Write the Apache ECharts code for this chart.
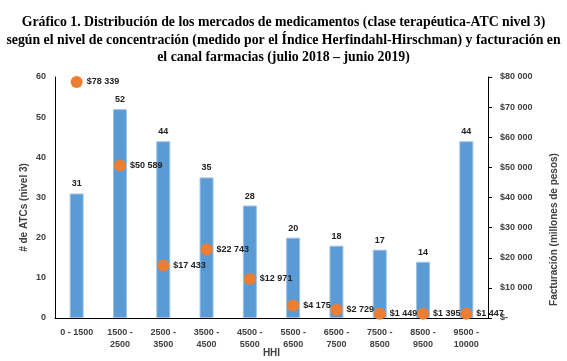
<!DOCTYPE html>
<html><head><meta charset="utf-8">
<script src="https://cdn.jsdelivr.net/npm/echarts@6/dist/echarts.min.js"></script>
<style>html,body{margin:0;padding:0;background:#fff}#c{width:567px;height:361px}</style>
</head><body><div id="c"></div>
<script>
var categories = ['0 - 1500','1500 -\n2500','2500 -\n3500','3500 -\n4500','4500 -\n5500','5500 -\n6500','6500 -\n7500','7500 -\n8500','8500 -\n9500','9500 -\n10000'];
var atcCounts = [31, 52, 44, 35, 28, 20, 18, 17, 14, 44];
var facturacion = [78339, 50589, 17433, 22743, 12971, 4175, 2729, 1449, 1395, 1447];
var titleText = 'Gráfico 1. Distribución de los mercados de medicamentos (clase terapéutica-ATC nivel 3)\nsegún el nivel de concentración (medido por el Índice Herfindahl-Hirschman) y facturación en\nel canal farmacias (julio 2018 – junio 2019)';

function fmtMoney(v){
  if (v === 0) return '$-';
  var s = String(Math.round(v));
  return '$' + s.replace(/\B(?=(\d{3})+(?!\d))/g, ' ');
}
var font = 'Liberation Sans';
var chart = echarts.init(document.getElementById('c'), null, {renderer:'canvas'});
chart.setOption({
  animation:false,
  backgroundColor:'#fff',
  title:{text:titleText, left:'center', top:9, textStyle:{fontFamily:'Liberation Serif', fontWeight:'bold', fontSize:13.8, lineHeight:17.5, color:'#000'}},
  grid:{left:55, right:79, top:77, bottom:43, outerBoundsMode:'none', containLabel:false},
  xAxis:{type:'category', data:categories, name:'HHI', nameLocation:'middle', nameGap:30, nameMoveOverlap:false,
    nameTextStyle:{fontFamily:font, fontWeight:'bold', fontSize:10, color:'#404040'},
    axisLine:{lineStyle:{color:'#000', width:1}}, axisTick:{show:false},
    axisLabel:{fontFamily:font, fontWeight:'bold', fontSize:9, color:'#404040', lineHeight:12, margin:9, interval:0}},
  yAxis:[
    {type:'value', min:0, max:60, interval:10, name:'# de ATCs (nivel 3)', nameLocation:'middle', nameGap:26, nameRotate:90, nameMoveOverlap:false,
      nameTextStyle:{fontFamily:font, fontWeight:'bold', fontSize:10, color:'#404040', padding:[0,0,0,-20]},
      axisLine:{show:true, lineStyle:{color:'#000'}}, axisTick:{show:false}, splitLine:{show:false},
      axisLabel:{fontFamily:font, fontWeight:'bold', fontSize:9, color:'#404040', margin:9}},
    {type:'value', min:0, max:80000, interval:10000, position:'right', name:'Facturación (millones de pesos)', nameLocation:'middle', nameGap:61, nameRotate:90, nameMoveOverlap:false,
      nameTextStyle:{fontFamily:font, fontWeight:'bold', fontSize:10, color:'#404040', padding:[0,0,0,-64]},
      axisLine:{show:true, lineStyle:{color:'#000'}}, axisTick:{show:true, inside:false, length:4, lineStyle:{color:'#000'}}, splitLine:{show:false},
      axisLabel:{fontFamily:font, fontWeight:'bold', fontSize:9, color:'#404040', margin:12, formatter:fmtMoney}}
  ],
  series:[
    {type:'bar', data:atcCounts, barWidth:14, yAxisIndex:0,
      itemStyle:{color:'#5B9BD5', borderColor:'#9DC3E6', borderWidth:1},
      label:{show:true, position:'top', distance:5, fontFamily:font, fontWeight:'bold', fontSize:9, color:'#222'}},
    {type:'scatter', data:facturacion, yAxisIndex:1, symbolSize:12, z:5,
      itemStyle:{color:'#ED7D31', opacity:1},
      label:{show:true, position:'right', distance:4, fontFamily:font, fontWeight:'bold', fontSize:9, color:'#222', formatter:function(p){return fmtMoney(p.value);}}}
  ]
});
</script></body></html>
